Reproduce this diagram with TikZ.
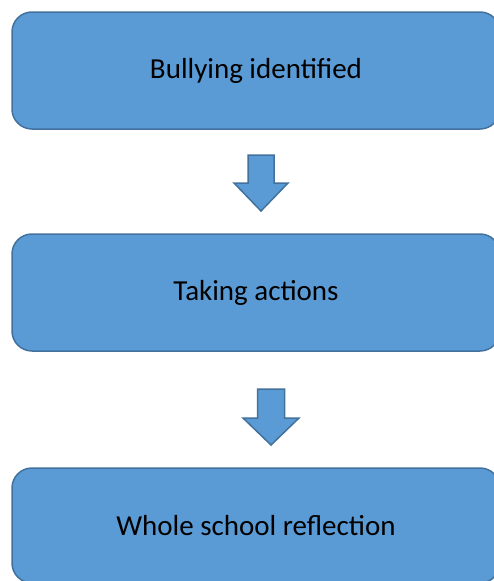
\documentclass[tikz,border=0pt]{standalone}
\usepackage{fontspec}
\setmainfont{Carlito}
\usepackage{tikz}
\usetikzlibrary{positioning}

\definecolor{boxfill}{HTML}{5B9BD5}
\definecolor{boxline}{HTML}{41719C}

\tikzset{
  stagebox/.style={draw=boxline,fill=boxfill,line width=1.5pt,rounded corners=20pt,
    minimum width=488pt,font=\fontsize{29}{34}\selectfont,text=black},
  downarrow/.style={draw=boxline,fill=boxfill,line width=1.5pt,line join=miter}
}

\begin{document}
\begin{tikzpicture}[x=1pt,y=-1pt]
  \useasboundingbox (0,0) rectangle (494,581);
  % the three stages
  \node[stagebox,minimum height=117pt] (found) at (256,70.5) {Bullying identified};
  \node[stagebox,minimum height=117pt] (act) at (256,292.5) {Taking actions};
  \node[stagebox,minimum height=115pt] (reflect) at (256,525.5) {Whole school reflection};
  % block arrows between them
  \draw[downarrow] (248,155) -- (274,155) -- (274,183) -- (288,183) -- (261,211)
    -- (234,183) -- (248,183) -- cycle;
  \draw[downarrow] (257.5,389) -- (284.5,389) -- (284.5,418) -- (299,418) -- (271,445)
    -- (243,418) -- (257.5,418) -- cycle;
\end{tikzpicture}
\end{document}
